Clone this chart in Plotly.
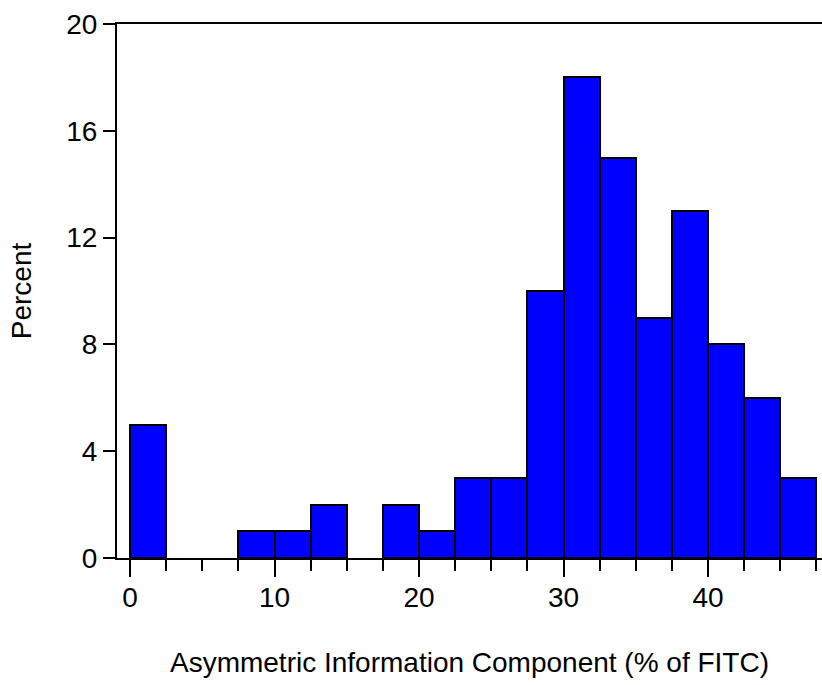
import numpy as np
import plotly.graph_objects as go

bin_left = [0, 2.5, 5, 7.5, 10, 12.5, 15, 17.5, 20, 22.5, 25, 27.5, 30, 32.5, 35, 37.5, 40, 42.5, 45]
percent = [5, 0, 0, 1, 1, 2, 0, 2, 1, 3, 3, 10, 18, 15, 9, 13, 8, 6, 3]
bin_width = 2.5
y_ticks = [0, 4, 8, 12, 16, 20]
x_ticks = [0, 10, 20, 30, 40]

centers = np.array(bin_left) + bin_width / 2
vals = np.array(percent, dtype=float)
mask = vals > 0

fig = go.Figure()
fig.add_trace(go.Bar(
    x=centers[mask], y=vals[mask], width=bin_width,
    marker=dict(color="#0000FF", line=dict(color="black", width=2)),
    showlegend=False,
))

font = dict(family="Liberation Sans, Arial, sans-serif", size=28, color="black")

fig.update_layout(
    width=822, height=685,
    margin=dict(l=117, r=0, t=24, b=127),
    plot_bgcolor="white", paper_bgcolor="white",
    font=font, bargap=0,
    xaxis=dict(
        range=[-0.9, 47.89], tickvals=x_ticks, ticks="outside", ticklen=17,
        tickwidth=2, tickcolor="black", showline=True, linewidth=2, linecolor="black",
        mirror=True, showgrid=False, zeroline=False, ticklabelstandoff=-4,
        minor=dict(dtick=2.5, tick0=0, ticks="outside", ticklen=11, tickwidth=2, tickcolor="black", showgrid=False),
        title=dict(text="Asymmetric Information Component (% of FITC)", standoff=41, font=font),
        tickfont=font,
    ),
    yaxis=dict(
        range=[0, 20], tickvals=y_ticks, ticks="outside", ticklen=12,
        tickwidth=2, tickcolor="black", showline=True, linewidth=2, linecolor="black",
        showgrid=False, zeroline=False,
        title=dict(text="Percent", standoff=26, font=font),
        tickfont=font,
    ),
)

fig.write_html("out.html")
